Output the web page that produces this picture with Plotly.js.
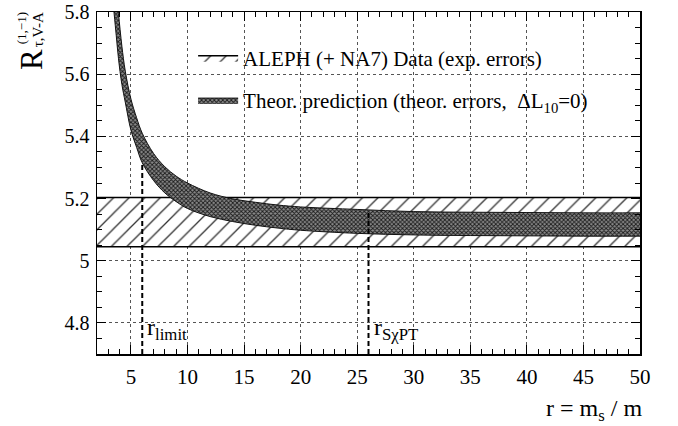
<!DOCTYPE html>
<html>
<head>
<meta charset="utf-8">
<script src="https://cdn.plot.ly/plotly-3.0.1.min.js"></script>
<style>html,body{margin:0;padding:0;background:#fff;}#chart{width:678px;height:426px;}</style>
</head>
<body>
<div id="chart"></div>
<script>
// ---- data ----
const rTheory = [3.5, 3.7, 3.9, 4.2, 4.5, 5, 5.5, 6, 7, 8, 9, 10, 12, 14, 16, 18, 20, 25, 30, 35, 40, 45, 50];
const theoryLow = [5.80, 5.725, 5.65, 5.567, 5.51, 5.42, 5.365, 5.315, 5.258, 5.218, 5.19, 5.168, 5.142, 5.126, 5.114, 5.105, 5.098, 5.088, 5.083, 5.081, 5.080, 5.079, 5.079];
const theoryHigh = [5.99, 5.87, 5.795, 5.69, 5.61, 5.52, 5.46, 5.41, 5.345, 5.302, 5.272, 5.25, 5.218, 5.199, 5.188, 5.179, 5.173, 5.165, 5.158, 5.156, 5.155, 5.154, 5.154];
const rData = [2, 50];
const dataLow = [5.045, 5.045];
const dataHigh = [5.203, 5.203];
const rLimit = 6.0;
const rSChPT = 26.0;
const limitTop = 5.315;
const schptTop = 5.163;
const yBottom = 4.7;
const xTickVals = [5, 10, 15, 20, 25, 30, 35, 40, 45, 50];
const xTickText = ['5', '10', '15', '20', '25', '30', '35', '40', '45', '50'];
const yTickVals = [4.8, 5.0, 5.2, 5.4, 5.6, 5.8];
const yTickText = ['4.8', '5', '5.2', '5.4', '5.6', '5.8'];
const nameData = 'ALEPH (+ NA7) Data (exp. errors)';
const nameTheory = 'Theor. prediction (theor. errors,\u00A0 \u0394L<sub>10</sub>=0)';

const serif = '"Liberation Serif", "Times New Roman", serif';

const traces = [
  {x: rData, y: dataLow, mode: 'lines', line: {color: '#000', width: 1.5}, showlegend: false, hoverinfo: 'skip', legendgroup: 'a'},
  {x: rData, y: dataHigh, mode: 'lines', line: {color: '#000', width: 1.5}, fill: 'tonexty',
   fillcolor: 'rgba(255,255,255,0)',
   fillpattern: {shape: '/', size: 11, solidity: 0.12, fgcolor: '#333', bgcolor: '#fff'},
   name: nameData, legendgroup: 'a'},
  {x: rTheory, y: theoryLow, mode: 'lines', line: {color: '#111', width: 1, shape: 'spline', smoothing: 1}, showlegend: false, hoverinfo: 'skip', legendgroup: 'b'},
  {x: rTheory, y: theoryHigh, mode: 'lines', line: {color: '#111', width: 1, shape: 'spline', smoothing: 1}, fill: 'tonexty',
   fillcolor: '#555',
   fillpattern: {shape: 'x', size: 3, solidity: 0.5, fgcolor: '#1a1a1a', bgcolor: '#8a8a8a'},
   name: nameTheory, legendgroup: 'b'},
  {x: [rLimit, rLimit], y: [yBottom, limitTop], mode: 'lines', line: {color: '#000', width: 2, dash: '5px,3px'}, showlegend: false, hoverinfo: 'skip'},
  {x: [rSChPT, rSChPT], y: [yBottom, schptTop], mode: 'lines', line: {color: '#000', width: 2, dash: '5px,3px'}, showlegend: false, hoverinfo: 'skip'}
];

function axisBase(size) {
  return {
    showline: true, linecolor: '#000', linewidth: 1.5, mirror: 'allticks',
    ticks: 'inside', ticklen: 9, tickwidth: 1, tickcolor: '#000',
    showgrid: true, gridcolor: '#555', gridwidth: 1, griddash: 'dot',
    zeroline: false, tickfont: {family: serif, size: size, color: '#000'},
    tickmode: 'array', ticklabeloverflow: 'allow'
  };
}

const layout = {
  width: 678, height: 426,
  margin: {l: 97, r: 38, t: 12, b: 72},
  paper_bgcolor: '#fff', plot_bgcolor: '#fff',
  font: {family: serif, color: '#000', size: 20},
  xaxis: Object.assign(axisBase(21), {
    range: [2, 50], tickvals: xTickVals, ticktext: xTickText, ticklabelstandoff: 3,
    minor: {dtick: 1, tick0: 0, ticks: 'inside', ticklen: 5, tickcolor: '#000', showgrid: false}
  }),
  yaxis: Object.assign(axisBase(20), {
    range: [4.7, 5.8], tickvals: yTickVals, ticktext: yTickText, ticklabelstandoff: 2,
    minor: {dtick: 0.05, tick0: 0, ticks: 'inside', ticklen: 5, tickcolor: '#000', showgrid: false}
  }),
  showlegend: true,
  legend: {x: 0.177, y: 0.925, xanchor: 'left', yanchor: 'top', bgcolor: 'rgba(0,0,0,0)',
           font: {family: serif, size: 21, color: '#000'}, tracegroupgap: 12, traceorder: 'grouped',
           itemwidth: 40},
  annotations: [
    {text: 'R', xref: 'paper', yref: 'paper', x: -0.1206, y: 0.861, showarrow: false, textangle: -90,
     font: {family: serif, size: 31}, xanchor: 'center', yanchor: 'middle'},
    {text: '(1,\u22121)', xref: 'paper', yref: 'paper', x: -0.139, y: 0.951, showarrow: false, textangle: -90,
     font: {family: serif, size: 13}, xanchor: 'center', yanchor: 'middle'},
    {text: '\u03C4,V-A', xref: 'paper', yref: 'paper', x: -0.1096, y: 0.948, showarrow: false, textangle: -90,
     font: {family: serif, size: 15}, xanchor: 'center', yanchor: 'middle'},
    {text: 'r = m<sub>s</sub> / m', xref: 'paper', yref: 'paper', x: 1.008, y: -0.165, showarrow: false,
     font: {family: serif, size: 24}, xanchor: 'right', yanchor: 'middle'},
    {text: 'r<sub>limit</sub>', xref: 'x', yref: 'y', x: rLimit, y: 4.78, showarrow: false,
     font: {family: serif, size: 24}, xanchor: 'left', yanchor: 'middle', xshift: 3},
    {text: 'r<sub>S\u03C7PT</sub>', xref: 'x', yref: 'y', x: rSChPT, y: 4.78, showarrow: false,
     font: {family: serif, size: 24}, xanchor: 'left', yanchor: 'middle', xshift: 3}
  ]
};

Plotly.newPlot('chart', traces, layout, {displayModeBar: false, staticPlot: true});
</script>
</body>
</html>
